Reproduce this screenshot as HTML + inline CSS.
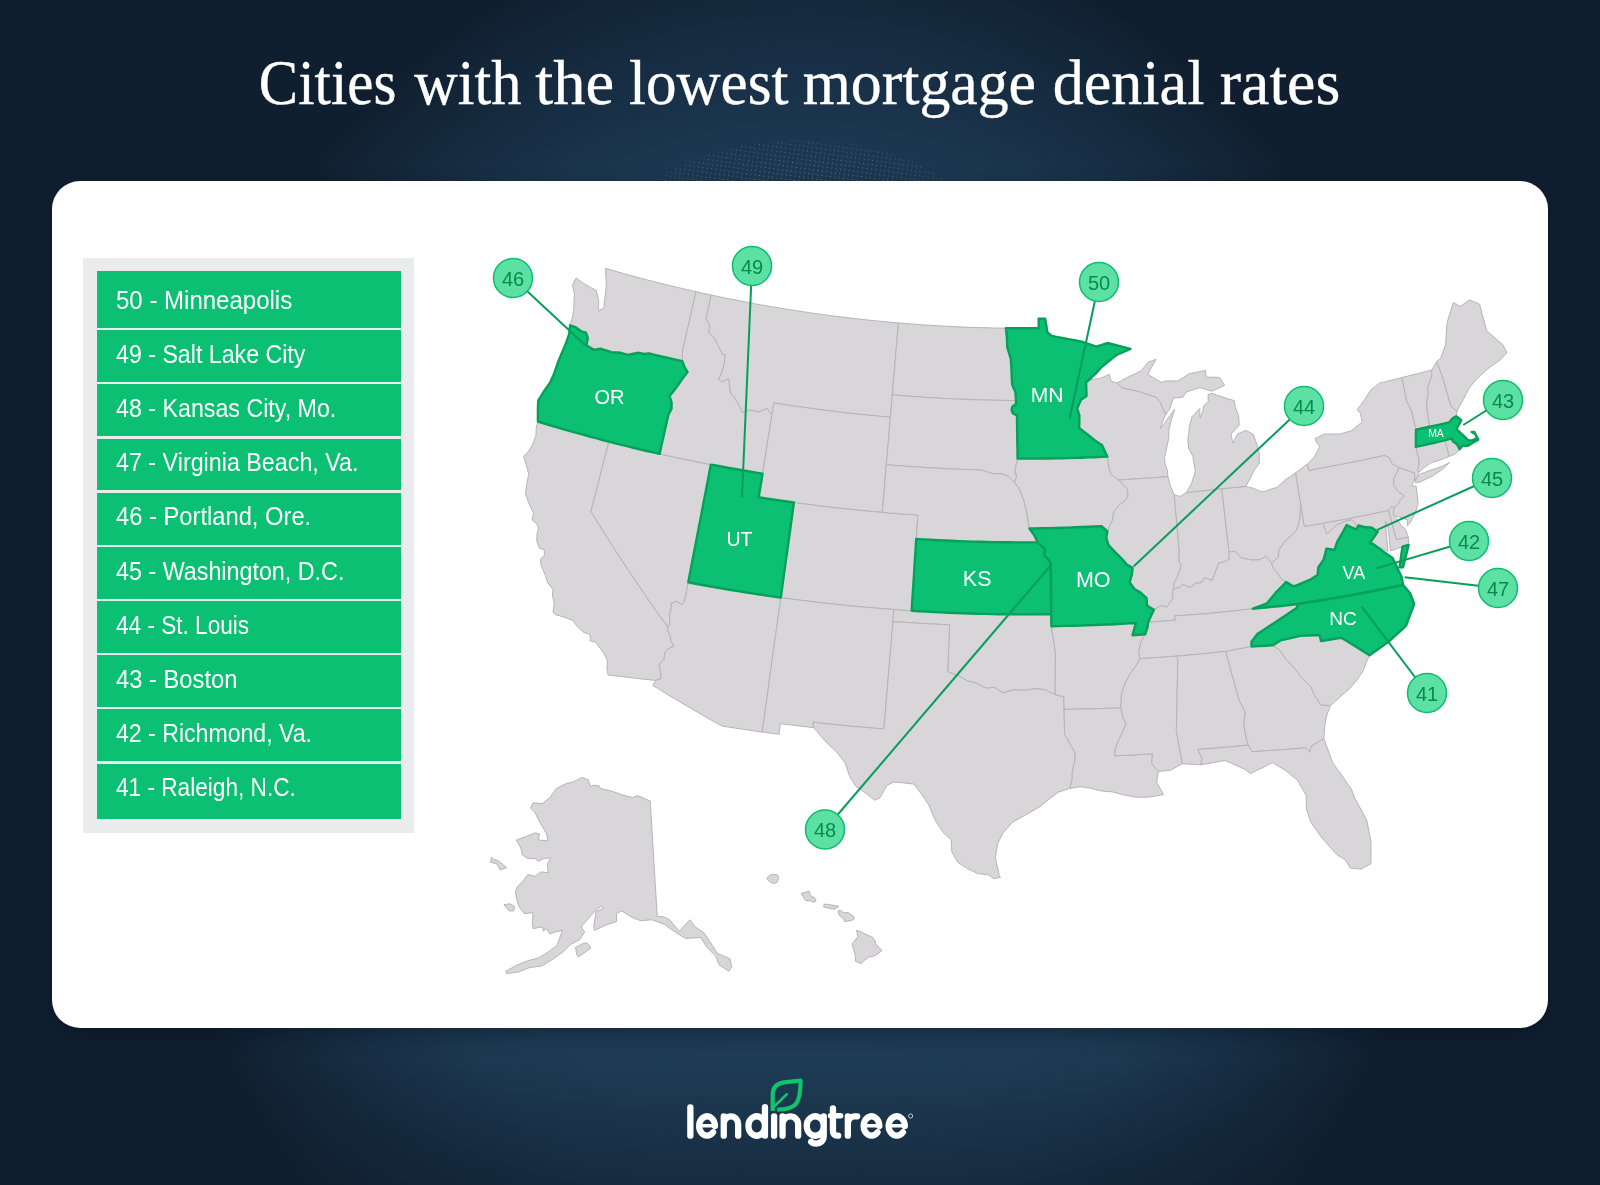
<!DOCTYPE html>
<html><head><meta charset="utf-8"><title>Cities with the lowest mortgage denial rates</title>
<style>
*{margin:0;padding:0;box-sizing:border-box}
html,body{width:1600px;height:1185px;overflow:hidden}
body{position:relative;background:#101f30;font-family:"Liberation Sans",sans-serif}
.bg{position:absolute;left:0;top:0;width:1600px;height:1185px;
background:linear-gradient(180deg,rgba(16,31,48,0) 1060px,rgba(16,31,48,0.5) 1185px),radial-gradient(ellipse 660px 760px at 800px 680px,#1f3e58 0%,#1e3b54 60%,#1c3850 70%,#183047 80%,#14283b 90%,#101f30 100%)}
h1{position:absolute;left:0;top:48px;width:1600px;text-align:center;color:#fff;font-family:"Liberation Serif",serif;
font-weight:normal;font-size:62px;line-height:70px;white-space:nowrap;letter-spacing:0px}
.card{position:absolute;left:52px;top:180.5px;width:1495.5px;height:847.5px;background:#fff;border-radius:28px;box-shadow:0 6px 18px rgba(5,12,22,0.35)}
.panel{position:absolute;left:83px;top:258px;width:331px;height:575px;background:#ebeced}
.row{position:absolute;left:96.5px;width:304px;background:#0bbf73;color:#fff}
.row span{position:absolute;left:19.5px;top:50%;transform:translateY(-50%);font-size:23px;line-height:28px;white-space:nowrap}
.map{position:absolute;left:0;top:0}
.title{position:absolute;left:0;top:0}
.logo{position:absolute;left:0;top:0}
</style></head><body>
<div class="bg"></div>
<svg class="title" width="1600" height="185" viewBox="0 0 1600 185"><title>Cities with the lowest mortgage denial rates</title><defs><pattern id="dots" width="4.4" height="4.4" patternUnits="userSpaceOnUse" patternTransform="rotate(8)"><circle cx="2.2" cy="2.2" r="0.62" fill="#7e9ab2"/></pattern><radialGradient id="dg" cx="800" cy="236" r="178" gradientUnits="userSpaceOnUse" gradientTransform="translate(800 236) scale(1 0.55) translate(-800 -236)"><stop offset="0.55" stop-color="#fff" stop-opacity="1"/><stop offset="1" stop-color="#fff" stop-opacity="0.55"/></radialGradient><mask id="dm"><ellipse cx="801" cy="238" rx="178" ry="98" fill="url(#dg)"/></mask></defs><rect x="600" y="130" width="400" height="55" fill="url(#dots)" mask="url(#dm)" opacity="0.75"/><g fill="#fff" font-family="Liberation Serif, serif" font-size="62.5" stroke="#fff" stroke-width="0.35" opacity="0.999"><text x="258.8" y="104.2" textLength="137.6" lengthAdjust="spacingAndGlyphs">Cities</text><text x="414.2" y="104.2" textLength="107.2" lengthAdjust="spacingAndGlyphs">with</text><text x="535.2" y="104.2" textLength="78.9" lengthAdjust="spacingAndGlyphs">the</text><text x="629.1" y="104.2" textLength="159.3" lengthAdjust="spacingAndGlyphs">lowest</text><text x="802.8" y="104.2" textLength="233.2" lengthAdjust="spacingAndGlyphs">mortgage</text><text x="1052.7" y="104.2" textLength="151.7" lengthAdjust="spacingAndGlyphs">denial</text><text x="1219.8" y="104.2" textLength="120.5" lengthAdjust="spacingAndGlyphs">rates</text></g></svg>
<div class="card"></div>
<div class="panel"></div>
<div class="row" style="top:271.0px;height:57.0px"></div><div class="row" style="top:330.3px;height:51.8px"></div><div class="row" style="top:384.4px;height:51.9px"></div><div class="row" style="top:438.6px;height:51.8px"></div><div class="row" style="top:492.8px;height:51.9px"></div><div class="row" style="top:546.9px;height:51.9px"></div><div class="row" style="top:601.0px;height:51.9px"></div><div class="row" style="top:655.2px;height:51.8px"></div><div class="row" style="top:709.4px;height:51.9px"></div><div class="row" style="top:763.5px;height:55.5px"></div>
<svg class="map" width="1600" height="1185" viewBox="0 0 1600 1185">
<g fill="#d8d6d8" stroke="#b5b4b6" stroke-width="1" stroke-linejoin="round"><path d="M605.6,268.4 605.9,277.1 606.3,285.7 605.5,293.2 604.6,300.8 603.7,308.3 598.6,310.8 598.6,305.7 598.7,300.7 596.2,290.4 590.6,287.4 585.1,284.4 580.6,281.2 576.2,278.0 572.4,285.2 574.4,293.5 574.0,303.2 573.7,310.1 572.1,318.7 570.1,325.3 575.6,327.2 578.4,329.3 581.2,331.3 586.0,332.7 587.8,338.2 586.5,345.2 590.2,347.6 594.0,349.9 600.3,348.7 605.9,350.5 611.4,352.2 616.1,352.5 620.7,352.8 624.3,353.8 627.9,354.9 633.3,353.8 638.7,352.8 644.4,354.0 649.1,353.4 654.6,354.8 660.2,356.1 665.7,357.4 671.2,358.7 676.7,360.0 682.3,361.2 682.4,356.1 682.5,351.1 684.5,342.6 686.4,334.1 688.3,325.6 690.3,317.1 692.2,308.6 694.1,300.2 696.0,291.7 690.0,290.3 683.9,288.9 677.8,287.5 671.8,286.1 665.7,284.6 659.7,283.1 653.6,281.5 647.6,280.0 641.6,278.4 635.6,276.8 629.5,275.2 623.5,273.5 617.5,271.8 611.6,270.1 605.6,268.4Z"/><path d="M537.9,421.6 536.3,427.4 535.9,436.0 532.4,445.0 528.5,451.3 523.7,456.4 526.5,465.7 528.7,473.9 527.6,479.9 526.5,485.8 525.5,494.2 527.6,499.9 529.8,505.5 533.4,512.8 532.2,520.0 536.9,523.9 538.6,528.1 537.0,533.9 536.8,541.3 539.7,548.4 544.2,549.6 544.4,555.9 540.7,558.6 540.9,564.9 545.1,574.8 547.8,583.0 553.0,589.3 552.4,595.4 554.3,603.3 553.0,611.7 555.3,614.7 559.5,615.8 563.7,616.9 568.3,618.7 572.8,620.5 577.3,626.6 580.6,629.6 583.9,632.6 589.6,634.0 590.5,638.4 590.0,640.8 595.7,642.1 598.7,646.5 603.4,652.5 607.5,660.8 606.9,668.0 608.0,674.9 614.8,675.8 621.6,676.6 628.4,677.4 635.2,678.2 642.0,679.0 648.8,679.7 655.7,680.4 661.1,678.6 660.8,673.9 659.2,664.5 663.9,659.4 665.0,652.7 667.7,649.1 674.2,646.2 670.8,641.2 670.1,635.0 667.4,630.3 668.0,627.2 662.1,619.1 656.3,610.9 650.5,602.7 644.8,594.4 639.2,586.2 633.6,577.9 628.0,569.7 622.6,561.4 617.1,553.0 611.8,544.7 606.5,536.4 601.3,528.0 596.1,519.7 591.0,511.3 593.2,502.6 595.5,493.8 597.7,485.1 600.0,476.4 602.2,467.7 604.5,459.0 606.7,450.3 608.9,441.6 602.5,440.0 596.0,438.2 589.5,436.5 583.0,434.7 576.5,432.9 570.1,431.1 563.6,429.3 557.2,427.4 550.8,425.5 544.3,423.6 537.9,421.6Z"/><path d="M608.9,441.6 606.7,450.3 604.5,459.0 602.2,467.7 600.0,476.4 597.7,485.1 595.5,493.8 593.2,502.6 591.0,511.3 596.1,519.7 601.3,528.0 606.5,536.4 611.8,544.7 617.1,553.0 622.6,561.4 628.0,569.7 633.6,577.9 639.2,586.2 644.8,594.4 650.5,602.7 656.3,610.9 662.1,619.1 668.0,627.2 670.1,622.7 669.4,615.3 671.6,607.2 670.7,603.3 676.6,601.5 681.8,604.8 684.6,601.2 686.5,591.7 688.3,582.3 690.0,573.2 691.7,564.2 693.5,555.1 695.2,546.1 697.0,537.0 698.7,527.9 700.5,518.9 702.2,509.8 703.9,500.8 705.7,491.7 707.4,482.7 709.1,473.6 710.9,464.6 704.5,463.3 698.0,462.0 691.6,460.7 685.2,459.4 678.8,458.1 672.4,456.7 666.0,455.3 659.6,453.9 653.2,452.4 646.9,451.0 640.5,449.5 634.2,448.0 627.9,446.4 621.6,444.8 615.3,443.3 608.9,441.6Z"/><path d="M696.0,291.7 701.1,292.9 706.1,294.0 711.1,295.0 709.5,302.9 707.8,310.7 706.1,318.5 709.9,326.1 708.9,332.4 711.7,335.1 714.4,337.8 718.5,346.4 722.7,354.5 725.2,354.5 724.6,359.8 724.0,365.1 721.5,373.1 718.6,379.5 722.4,381.7 729.0,378.4 729.7,385.7 730.4,393.0 734.0,396.8 736.9,401.8 739.9,406.8 742.3,412.1 746.8,411.0 751.3,409.8 755.0,410.9 758.7,412.0 762.8,410.2 767.0,408.3 771.9,414.7 770.6,423.1 769.2,431.5 767.9,439.9 766.6,448.3 765.2,456.8 763.9,465.2 762.5,473.6 756.0,472.6 749.6,471.5 743.1,470.4 736.7,469.3 730.2,468.2 723.8,467.0 717.3,465.8 710.9,464.6 704.5,463.3 698.0,462.0 691.6,460.7 685.2,459.4 678.8,458.1 672.4,456.7 666.0,455.3 659.6,453.9 661.3,446.0 663.1,438.2 664.9,430.3 666.6,422.5 668.4,414.7 671.5,408.8 671.6,402.7 669.6,396.1 673.6,390.9 677.5,385.7 682.0,379.4 687.5,372.1 684.1,366.0 682.3,361.2 682.4,356.1 682.5,351.1 684.5,342.6 686.4,334.1 688.3,325.6 690.3,317.1 692.2,308.6 694.1,300.2 696.0,291.7Z"/><path d="M711.1,295.0 717.3,296.4 723.5,297.6 729.7,298.9 735.9,300.1 742.1,301.3 748.3,302.5 754.5,303.7 760.7,304.8 766.9,305.9 773.2,307.0 779.4,308.0 785.6,309.0 791.8,310.0 798.1,311.0 804.3,311.9 810.6,312.9 816.8,313.7 823.1,314.6 829.3,315.5 835.6,316.3 841.9,317.0 848.1,317.8 854.4,318.5 860.7,319.2 867.0,319.9 873.2,320.6 879.5,321.2 885.8,321.8 892.1,322.4 898.4,322.9 897.6,331.9 896.9,340.8 896.1,349.8 895.3,358.8 894.6,367.8 893.8,376.8 893.0,385.9 892.3,394.9 891.6,402.3 891.0,409.7 890.4,417.2 883.9,416.6 877.4,416.0 870.9,415.4 864.4,414.7 857.9,414.1 851.4,413.4 844.9,412.7 838.4,411.9 832.0,411.1 825.5,410.3 819.0,409.5 812.5,408.6 806.1,407.7 799.6,406.8 793.2,405.9 786.7,404.9 780.3,403.9 773.8,402.9 772.9,408.8 771.9,414.7 767.0,408.3 762.8,410.2 758.7,412.0 755.0,410.9 751.3,409.8 746.8,411.0 742.3,412.1 739.9,406.8 736.9,401.8 734.0,396.8 730.4,393.0 729.7,385.7 729.0,378.4 722.4,381.7 718.6,379.5 721.5,373.1 724.0,365.1 724.6,359.8 725.2,354.5 722.7,354.5 718.5,346.4 714.4,337.8 711.7,335.1 708.9,332.4 709.9,326.1 706.1,318.5 707.8,310.7 709.5,302.9 711.1,295.0Z"/><path d="M771.9,414.7 772.9,408.8 773.8,402.9 780.3,403.9 786.7,404.9 793.2,405.9 799.6,406.8 806.1,407.7 812.5,408.6 819.0,409.5 825.5,410.3 832.0,411.1 838.4,411.9 844.9,412.7 851.4,413.4 857.9,414.1 864.4,414.7 870.9,415.4 877.4,416.0 883.9,416.6 890.4,417.2 889.6,426.7 888.8,436.2 888.0,445.7 887.2,455.2 886.3,464.7 885.5,474.2 884.7,483.8 883.9,493.3 883.1,502.8 882.3,512.4 875.5,511.8 868.7,511.2 861.9,510.5 855.1,509.8 848.2,509.1 841.4,508.4 834.6,507.7 827.9,506.9 821.1,506.1 814.3,505.2 807.5,504.3 800.7,503.5 793.9,502.5 786.9,501.5 779.8,500.5 772.8,499.5 765.8,498.4 758.7,497.3 760.0,489.4 761.3,481.5 762.5,473.6 763.9,465.2 765.2,456.8 766.6,448.3 767.9,439.9 769.2,431.5 770.6,423.1 771.9,414.7Z"/><path d="M793.9,502.5 800.7,503.5 807.5,504.3 814.3,505.2 821.1,506.1 827.9,506.9 834.6,507.7 841.4,508.4 848.2,509.1 855.1,509.8 861.9,510.5 868.7,511.2 875.5,511.8 882.3,512.4 889.4,513.0 896.5,513.5 903.6,514.1 910.7,514.5 917.8,515.0 917.3,523.0 916.8,531.0 916.2,538.9 915.7,547.9 915.1,556.9 914.5,565.9 914.0,574.8 913.4,583.8 912.8,592.8 912.2,601.8 911.7,610.8 905.7,610.4 899.8,610.0 893.9,609.5 886.8,609.0 879.7,608.4 872.6,607.8 865.5,607.2 858.4,606.6 851.4,605.9 844.3,605.2 837.2,604.5 830.2,603.7 823.1,602.9 816.0,602.1 809.0,601.2 801.9,600.4 794.9,599.5 787.8,598.5 780.8,597.6 782.1,588.1 783.4,578.6 784.7,569.1 786.0,559.5 787.4,550.0 788.7,540.5 790.0,531.0 791.3,521.5 792.6,512.0 793.9,502.5Z"/><path d="M688.3,582.3 695.4,583.7 702.4,585.0 709.5,586.3 716.6,587.5 723.8,588.8 730.9,590.0 738.0,591.1 745.1,592.3 752.2,593.4 759.4,594.5 766.5,595.5 773.6,596.6 780.8,597.6 779.6,606.6 778.3,615.5 777.1,624.5 775.8,633.5 774.6,642.5 773.3,651.4 772.1,660.4 770.9,669.4 769.6,678.3 768.4,687.3 767.2,696.3 765.9,705.2 764.7,714.2 763.4,723.1 762.2,732.0 755.5,731.1 748.7,730.1 742.0,729.1 735.3,728.1 728.5,727.1 721.8,726.0 714.8,722.1 707.8,718.1 700.8,714.1 693.9,710.1 687.0,706.0 680.1,702.0 673.2,697.9 666.4,693.8 659.6,689.6 652.8,685.4 655.7,680.4 661.1,678.6 660.8,673.9 659.2,664.5 663.9,659.4 665.0,652.7 667.7,649.1 674.2,646.2 670.8,641.2 670.1,635.0 667.4,630.3 668.0,627.2 670.1,622.7 669.4,615.3 671.6,607.2 670.7,603.3 676.6,601.5 681.8,604.8 684.6,601.2 686.5,591.7 688.3,582.3Z"/><path d="M780.8,597.6 787.8,598.5 794.9,599.5 801.9,600.4 809.0,601.2 816.0,602.1 823.1,602.9 830.2,603.7 837.2,604.5 844.3,605.2 851.4,605.9 858.4,606.6 865.5,607.2 872.6,607.8 879.7,608.4 886.8,609.0 893.9,609.5 893.4,615.5 893.0,621.5 892.2,630.5 891.5,639.4 890.7,648.4 889.9,657.3 889.2,666.3 888.4,675.3 887.7,684.2 886.9,693.1 886.1,702.1 885.4,711.0 884.6,719.9 883.8,728.9 875.9,728.3 868.0,727.6 860.1,727.0 852.2,726.3 844.3,725.5 836.4,724.7 828.5,723.9 820.6,723.1 812.8,722.2 814.0,727.7 807.3,726.9 800.5,726.1 793.8,725.3 787.1,724.5 780.4,723.6 779.7,729.0 779.1,734.3 773.4,733.5 767.8,732.8 762.2,732.0 763.4,723.1 764.7,714.2 765.9,705.2 767.2,696.3 768.4,687.3 769.6,678.3 770.9,669.4 772.1,660.4 773.3,651.4 774.6,642.5 775.8,633.5 777.1,624.5 778.3,615.5 779.6,606.6 780.8,597.6Z"/><path d="M898.4,322.9 904.3,323.4 910.3,323.9 916.3,324.3 922.2,324.8 928.2,325.2 934.2,325.5 940.1,325.9 946.1,326.2 952.1,326.5 958.1,326.8 964.0,327.1 970.0,327.3 976.0,327.5 982.0,327.7 987.9,327.8 993.9,328.0 999.9,328.1 1005.9,328.2 1007.0,337.6 1007.2,347.0 1009.0,352.9 1010.8,358.8 1011.2,364.7 1011.5,370.6 1011.8,377.7 1012.2,384.8 1015.4,392.0 1016.0,400.5 1009.5,400.5 1003.0,400.4 996.5,400.3 989.9,400.1 983.4,400.0 976.9,399.8 970.4,399.6 963.9,399.3 957.4,399.1 950.8,398.8 944.3,398.5 937.8,398.1 931.3,397.7 924.8,397.3 918.3,396.9 911.8,396.4 905.3,396.0 898.8,395.4 892.3,394.9 893.0,385.9 893.8,376.8 894.6,367.8 895.3,358.8 896.1,349.8 896.9,340.8 897.6,331.9 898.4,322.9Z"/><path d="M892.3,394.9 898.8,395.4 905.3,396.0 911.8,396.4 918.3,396.9 924.8,397.3 931.3,397.7 937.8,398.1 944.3,398.5 950.8,398.8 957.4,399.1 963.9,399.3 970.4,399.6 976.9,399.8 983.4,400.0 989.9,400.1 996.5,400.3 1003.0,400.4 1009.5,400.5 1016.0,400.5 1016.0,404.0 1012.5,406.5 1011.5,410.0 1013.0,413.5 1017.0,415.5 1017.1,424.1 1017.2,432.7 1017.3,441.4 1017.5,450.0 1017.6,458.6 1016.3,464.6 1014.9,470.5 1016.6,476.5 1014.5,482.5 1008.0,476.0 1004.5,474.9 1001.1,473.7 997.2,473.8 993.3,473.9 989.4,472.6 985.5,471.3 982.1,470.0 975.3,469.8 968.4,469.6 961.6,469.3 954.7,469.1 947.9,468.8 941.0,468.4 934.2,468.1 927.3,467.7 920.5,467.2 913.7,466.8 906.8,466.3 900.0,465.8 893.2,465.3 886.3,464.7 887.2,455.2 888.0,445.7 888.8,436.2 889.6,426.7 890.4,417.2 891.0,409.7 891.6,402.3 892.3,394.9Z"/><path d="M886.3,464.7 893.2,465.3 900.0,465.8 906.8,466.3 913.7,466.8 920.5,467.2 927.3,467.7 934.2,468.1 941.0,468.4 947.9,468.8 954.7,469.1 961.6,469.3 968.4,469.6 975.3,469.8 982.1,470.0 985.5,471.3 989.4,472.6 993.3,473.9 997.2,473.8 1001.1,473.7 1004.5,474.9 1008.0,476.0 1014.5,482.5 1019.2,488.5 1021.4,493.9 1023.5,499.3 1025.3,506.5 1027.1,513.6 1028.0,520.8 1029.4,528.5 1034.3,535.2 1037.7,542.4 1030.6,542.4 1023.4,542.4 1016.3,542.4 1009.1,542.3 1002.0,542.3 994.8,542.1 987.7,542.0 980.5,541.8 973.4,541.6 966.2,541.4 959.1,541.1 952.0,540.8 944.8,540.5 937.7,540.2 930.5,539.8 923.4,539.4 916.2,538.9 916.8,531.0 917.3,523.0 917.8,515.0 910.7,514.5 903.6,514.1 896.5,513.5 889.4,513.0 882.3,512.4 883.1,502.8 883.9,493.3 884.7,483.8 885.5,474.2 886.3,464.7Z"/><path d="M911.7,610.8 919.0,611.2 926.3,611.6 933.7,612.0 941.0,612.4 948.4,612.7 955.7,613.0 963.1,613.3 970.4,613.5 977.7,613.8 985.1,613.9 992.4,614.1 999.8,614.2 1007.1,614.3 1014.5,614.4 1021.8,614.4 1029.2,614.4 1036.5,614.4 1043.9,614.3 1051.2,614.2 1051.3,620.2 1051.4,626.2 1052.7,635.0 1054.1,643.9 1055.4,652.8 1055.4,661.1 1055.3,669.5 1055.3,677.9 1055.2,686.3 1055.2,694.7 1050.0,692.1 1044.9,689.6 1039.5,689.1 1034.1,688.7 1029.7,689.5 1025.3,690.4 1019.4,690.1 1013.5,689.9 1008.1,691.4 1002.7,692.9 998.4,690.1 994.0,687.2 990.1,687.8 986.1,688.3 981.3,685.8 976.5,683.3 971.6,681.9 966.8,680.6 963.0,678.3 959.2,676.0 954.8,674.4 950.5,672.8 947.7,671.3 948.1,662.0 948.5,652.7 948.9,643.4 949.2,634.1 949.6,624.8 942.5,624.5 935.5,624.1 928.4,623.8 921.3,623.4 914.2,622.9 907.1,622.5 900.0,622.0 893.0,621.5 893.4,615.5 893.9,609.5 899.8,610.0 905.7,610.4 911.7,610.8Z"/><path d="M893.0,621.5 900.0,622.0 907.1,622.5 914.2,622.9 921.3,623.4 928.4,623.8 935.5,624.1 942.5,624.5 949.6,624.8 949.2,634.1 948.9,643.4 948.5,652.7 948.1,662.0 947.7,671.3 950.5,672.8 954.8,674.4 959.2,676.0 963.0,678.3 966.8,680.6 971.6,681.9 976.5,683.3 981.3,685.8 986.1,688.3 990.1,687.8 994.0,687.2 998.4,690.1 1002.7,692.9 1008.1,691.4 1013.5,689.9 1019.4,690.1 1025.3,690.4 1029.7,689.5 1034.1,688.7 1039.5,689.1 1044.9,689.6 1050.0,692.1 1055.2,694.7 1059.5,695.7 1063.8,696.7 1064.0,703.0 1064.1,709.4 1064.3,717.6 1064.4,725.8 1064.6,734.0 1069.6,743.2 1072.3,747.9 1074.9,752.6 1075.1,759.7 1073.7,765.7 1072.3,771.7 1072.1,780.0 1069.9,788.4 1064.1,790.3 1058.4,792.2 1050.2,798.3 1045.0,802.5 1039.9,806.7 1032.6,810.9 1025.3,815.0 1019.0,818.6 1012.7,822.1 1007.9,827.4 1003.2,832.7 1000.5,838.0 997.7,843.3 996.6,850.3 995.4,857.4 996.7,863.7 998.1,870.0 999.4,876.3 1000.5,877.3 994.0,878.6 988.7,875.0 983.3,874.3 977.9,873.6 972.6,871.1 967.3,868.6 962.6,865.5 957.9,862.4 954.8,857.0 951.8,851.6 951.5,845.7 951.2,839.7 947.1,836.0 943.0,832.3 939.0,826.2 935.1,820.1 931.8,812.3 928.5,804.4 925.1,799.5 921.8,794.5 917.9,789.3 914.0,784.1 907.9,783.4 901.7,782.7 897.6,782.4 893.5,782.1 887.1,785.2 883.5,791.5 880.0,797.8 874.6,800.3 867.7,794.5 861.8,790.4 855.9,786.4 849.6,776.3 847.5,770.1 845.5,763.9 841.9,758.8 838.3,753.7 832.7,748.4 827.1,743.0 823.5,739.0 819.9,735.0 814.0,727.7 812.8,722.2 820.6,723.1 828.5,723.9 836.4,724.7 844.3,725.5 852.2,726.3 860.1,727.0 868.0,727.6 875.9,728.3 883.8,728.9 884.6,719.9 885.4,711.0 886.1,702.1 886.9,693.1 887.7,684.2 888.4,675.3 889.2,666.3 889.9,657.3 890.7,648.4 891.5,639.4 892.2,630.5 893.0,621.5Z"/><path d="M1017.6,458.6 1024.0,458.6 1030.4,458.6 1036.8,458.6 1043.2,458.5 1049.6,458.5 1056.0,458.3 1062.4,458.2 1068.8,458.1 1075.3,457.9 1081.7,457.7 1088.1,457.4 1094.5,457.2 1100.9,456.9 1107.3,456.6 1108.2,462.5 1109.1,468.4 1111.1,474.3 1114.8,477.1 1118.6,479.9 1122.1,483.3 1127.3,489.0 1128.1,496.1 1124.9,501.1 1120.6,503.8 1117.3,507.5 1113.9,511.3 1112.6,519.8 1110.0,525.6 1107.4,531.3 1101.6,526.1 1095.1,526.4 1088.5,526.7 1082.0,527.0 1075.4,527.3 1068.8,527.6 1062.3,527.8 1055.7,528.0 1049.1,528.1 1042.6,528.3 1036.0,528.4 1029.4,528.5 1028.0,520.8 1027.1,513.6 1025.3,506.5 1023.5,499.3 1021.4,493.9 1019.2,488.5 1014.5,482.5 1016.6,476.5 1014.9,470.5 1016.3,464.6 1017.6,458.6Z"/><path d="M1051.4,626.2 1058.5,626.1 1065.5,625.9 1072.6,625.8 1079.6,625.6 1086.6,625.3 1093.7,625.1 1100.7,624.8 1107.8,624.5 1114.8,624.2 1121.8,623.8 1128.9,623.4 1135.9,623.0 1134.2,629.1 1132.5,635.2 1138.8,634.8 1145.2,634.4 1140.9,641.9 1139.8,646.8 1138.6,651.6 1140.1,658.8 1135.7,666.2 1130.3,673.7 1125.0,683.6 1121.6,693.4 1121.2,700.6 1120.9,707.8 1113.8,708.1 1106.7,708.4 1099.6,708.6 1092.5,708.8 1085.4,709.0 1078.3,709.1 1071.2,709.3 1064.1,709.4 1064.0,703.0 1063.8,696.7 1059.5,695.7 1055.2,694.7 1055.2,686.3 1055.3,677.9 1055.3,669.5 1055.4,661.1 1055.4,652.8 1054.1,643.9 1052.7,635.0 1051.4,626.2Z"/><path d="M1064.1,709.4 1071.2,709.3 1078.3,709.1 1085.4,709.0 1092.5,708.8 1099.6,708.6 1106.7,708.4 1113.8,708.1 1120.9,707.8 1122.8,717.3 1126.1,724.3 1121.6,734.1 1118.0,741.4 1115.3,748.7 1114.6,755.9 1122.2,755.5 1129.8,755.2 1137.4,754.7 1144.9,754.3 1152.5,753.8 1151.7,763.4 1158.2,771.4 1157.4,776.9 1156.6,782.4 1160.1,788.5 1163.6,794.5 1156.8,795.8 1150.0,797.0 1143.1,797.2 1136.2,797.3 1129.0,795.9 1121.9,794.5 1117.0,793.1 1112.1,791.8 1106.9,791.4 1101.8,791.0 1095.5,789.5 1089.2,787.9 1084.6,787.3 1079.9,786.7 1074.9,787.6 1069.9,788.4 1072.1,780.0 1072.3,771.7 1073.7,765.7 1075.1,759.7 1074.9,752.6 1072.3,747.9 1069.6,743.2 1064.6,734.0 1064.4,725.8 1064.3,717.6 1064.1,709.4Z"/><path d="M1089.0,380.0 1094.7,379.2 1100.4,378.3 1104.8,376.4 1109.2,374.3 1111.2,381.3 1117.0,382.9 1122.3,387.8 1127.8,389.0 1133.4,390.2 1139.0,391.4 1143.2,392.9 1147.5,394.4 1151.8,395.8 1156.0,397.2 1160.7,402.8 1162.8,408.6 1165.9,414.3 1163.0,420.5 1160.3,428.6 1164.9,422.7 1169.4,416.4 1174.6,409.2 1173.0,414.5 1171.4,419.8 1168.9,429.6 1168.8,437.9 1167.0,446.5 1165.8,452.0 1164.5,457.5 1165.0,463.7 1167.4,470.4 1167.9,476.6 1161.7,477.1 1155.6,477.6 1149.4,478.0 1143.2,478.4 1137.1,478.8 1130.9,479.2 1124.7,479.6 1118.6,479.9 1114.8,477.1 1111.1,474.3 1109.1,468.4 1108.2,462.5 1107.3,456.6 1104.6,450.7 1101.9,444.9 1098.4,442.7 1094.9,440.4 1087.9,434.8 1083.5,431.4 1079.2,427.9 1079.3,421.7 1079.4,415.5 1077.2,408.5 1080.9,399.8 1086.5,396.0 1086.3,389.2 1086.0,382.3 1089.0,380.0Z"/><path d="M1118.6,479.9 1124.7,479.6 1130.9,479.2 1137.1,478.8 1143.2,478.4 1149.4,478.0 1155.6,477.6 1161.7,477.1 1167.9,476.6 1170.4,485.8 1172.7,491.6 1174.3,495.0 1175.1,504.4 1175.9,513.7 1176.8,523.1 1177.6,532.4 1178.4,541.8 1179.3,551.1 1178.8,560.8 1181.1,565.4 1179.7,570.4 1177.5,576.6 1174.6,581.7 1173.3,589.0 1172.6,596.3 1172.8,598.7 1166.9,607.1 1161.2,605.6 1157.6,607.7 1153.9,609.7 1147.0,605.4 1146.6,598.2 1140.6,592.6 1134.8,589.4 1129.7,582.5 1132.0,573.9 1132.5,567.9 1126.8,564.6 1121.9,558.9 1116.1,553.2 1112.3,549.2 1108.5,545.2 1106.3,538.1 1107.4,531.3 1110.0,525.6 1112.6,519.8 1113.9,511.3 1117.3,507.5 1120.6,503.8 1124.9,501.1 1128.1,496.1 1127.3,489.0 1122.1,483.3 1118.6,479.9Z"/><path d="M1174.3,495.0 1180.2,496.4 1186.6,492.4 1192.4,491.9 1198.3,491.3 1204.2,490.6 1210.0,490.0 1215.9,489.3 1221.7,488.7 1222.8,497.7 1223.8,506.7 1224.9,515.8 1225.9,524.8 1226.9,533.9 1228.0,542.9 1229.0,552.0 1229.3,559.2 1223.2,562.3 1218.7,562.9 1216.9,567.9 1215.1,572.9 1212.2,580.5 1204.5,577.6 1201.3,582.8 1195.7,583.3 1190.5,587.4 1186.7,586.0 1182.8,584.5 1180.2,587.2 1173.3,589.0 1174.6,581.7 1177.5,576.6 1179.7,570.4 1181.1,565.4 1178.8,560.8 1179.3,551.1 1178.4,541.8 1177.6,532.4 1176.8,523.1 1175.9,513.7 1175.1,504.4 1174.3,495.0Z"/><path d="M1221.7,488.7 1222.8,497.7 1223.8,506.7 1224.9,515.8 1225.9,524.8 1226.9,533.9 1228.0,542.9 1229.0,552.0 1234.8,551.3 1241.2,557.8 1246.4,558.9 1251.6,560.1 1255.8,559.9 1259.9,559.7 1265.9,556.2 1271.5,562.9 1278.2,557.6 1279.0,550.2 1284.2,542.2 1289.9,536.9 1293.1,533.8 1296.3,530.6 1298.2,525.4 1299.2,520.4 1300.2,515.4 1300.3,510.5 1300.8,504.6 1299.5,496.7 1298.2,488.7 1296.9,480.8 1295.6,472.9 1290.2,476.6 1284.7,480.2 1280.8,483.9 1276.9,487.5 1271.7,488.8 1267.9,490.3 1264.1,491.8 1259.6,491.2 1253.8,488.4 1249.7,487.4 1245.6,486.4 1239.6,487.0 1233.6,487.6 1227.7,488.1 1221.7,488.7Z"/><path d="M1117.0,382.9 1121.3,380.7 1125.5,378.4 1129.7,376.2 1135.3,373.7 1140.8,371.1 1144.5,366.7 1148.2,362.2 1152.2,360.7 1156.1,359.2 1151.9,366.7 1147.6,374.2 1154.5,378.3 1161.4,382.5 1166.2,380.9 1172.0,380.9 1177.7,381.0 1183.2,377.5 1188.6,373.9 1194.1,372.8 1199.7,371.6 1205.3,370.4 1206.3,377.4 1212.0,377.2 1215.8,377.4 1219.5,377.5 1224.6,385.2 1218.4,388.4 1214.9,389.8 1211.5,391.2 1205.7,389.3 1199.9,387.5 1195.4,389.0 1190.9,390.5 1186.3,392.0 1182.7,397.2 1178.0,397.7 1173.3,398.1 1171.4,403.6 1169.6,409.2 1165.9,414.3 1162.8,408.6 1160.7,402.8 1156.0,397.2 1151.8,395.8 1147.5,394.4 1143.2,392.9 1139.0,391.4 1133.4,390.2 1127.8,389.0 1122.3,387.8 1117.0,382.9ZM1186.6,492.4 1191.4,483.8 1193.4,477.6 1195.3,471.4 1194.1,463.9 1192.9,456.5 1188.6,448.0 1187.8,439.7 1188.8,432.4 1189.7,425.2 1192.2,416.5 1196.0,412.5 1199.8,408.5 1199.9,413.3 1200.0,418.1 1202.7,411.8 1203.7,405.7 1208.2,401.6 1208.2,394.4 1211.8,393.3 1216.4,394.9 1221.0,396.5 1227.6,398.6 1234.2,400.7 1235.4,407.5 1238.7,415.7 1238.9,420.5 1239.2,425.3 1235.0,429.7 1230.9,434.1 1232.9,443.0 1237.7,433.9 1241.8,432.2 1245.9,430.4 1249.6,432.3 1253.3,434.2 1255.5,440.5 1257.7,446.8 1259.3,454.3 1259.2,463.5 1254.0,470.3 1250.6,478.0 1245.6,486.4 1239.6,487.0 1233.6,487.6 1227.7,488.1 1221.7,488.7 1215.9,489.3 1210.0,490.0 1204.2,490.6 1198.3,491.3 1192.4,491.9 1186.6,492.4Z"/><path d="M1271.5,562.9 1265.9,556.2 1259.9,559.7 1255.8,559.9 1251.6,560.1 1246.4,558.9 1241.2,557.8 1234.8,551.3 1229.0,552.0 1229.3,559.2 1223.2,562.3 1218.7,562.9 1216.9,567.9 1215.1,572.9 1212.2,580.5 1204.5,577.6 1201.3,582.8 1195.7,583.3 1190.5,587.4 1186.7,586.0 1182.8,584.5 1180.2,587.2 1173.3,589.0 1172.6,596.3 1172.8,598.7 1166.9,607.1 1161.2,605.6 1157.6,607.7 1153.9,609.7 1151.5,614.7 1148.2,622.2 1154.9,621.7 1161.7,621.2 1168.4,620.7 1175.2,620.1 1174.8,615.8 1182.2,615.4 1189.6,614.9 1197.0,614.4 1204.4,613.8 1211.3,613.2 1218.2,612.5 1225.2,611.8 1232.1,611.1 1239.0,610.3 1245.9,609.5 1252.8,608.7 1259.9,606.0 1267.0,603.3 1271.8,597.6 1276.5,591.8 1281.3,587.0 1286.1,582.1 1282.4,580.0 1277.7,573.4 1273.2,568.0 1271.5,562.9Z"/><path d="M1252.8,608.7 1245.9,609.5 1239.0,610.3 1232.1,611.1 1225.2,611.8 1218.2,612.5 1211.3,613.2 1204.4,613.8 1197.0,614.4 1189.6,614.9 1182.2,615.4 1174.8,615.8 1175.2,620.1 1168.4,620.7 1161.7,621.2 1154.9,621.7 1148.2,622.2 1147.6,627.0 1145.2,634.4 1140.9,641.9 1139.8,646.8 1138.6,651.6 1140.1,658.8 1147.2,658.3 1154.3,657.8 1161.4,657.3 1168.6,656.7 1175.7,656.2 1182.8,655.6 1190.0,654.9 1197.1,654.3 1204.2,653.6 1211.4,652.9 1218.5,652.1 1225.6,651.4 1232.1,650.2 1238.6,649.0 1245.0,647.8 1251.5,646.5 1251.5,641.8 1257.6,633.7 1263.9,629.7 1270.2,625.6 1276.5,621.5 1280.5,618.8 1285.9,615.2 1291.3,611.6 1296.7,608.0 1298.1,604.0 1291.6,604.7 1285.2,605.5 1278.7,606.2 1272.2,606.8 1265.8,607.5 1259.3,608.1 1252.8,608.7Z"/><path d="M1120.9,707.8 1121.2,700.6 1121.6,693.4 1125.0,683.6 1130.3,673.7 1135.7,666.2 1140.1,658.8 1147.2,658.3 1154.3,657.8 1161.4,657.3 1168.6,656.7 1175.7,656.2 1177.8,658.4 1177.6,667.4 1177.5,676.5 1177.3,685.5 1177.1,694.5 1177.0,703.5 1176.8,712.5 1176.6,721.5 1176.3,730.5 1177.8,738.8 1179.3,747.1 1180.8,755.4 1182.3,763.7 1176.3,767.0 1170.2,770.3 1164.2,770.9 1158.2,771.4 1151.7,763.4 1152.5,753.8 1144.9,754.3 1137.4,754.7 1129.8,755.2 1122.2,755.5 1114.6,755.9 1115.3,748.7 1118.0,741.4 1121.6,734.1 1126.1,724.3 1122.8,717.3 1120.9,707.8Z"/><path d="M1175.7,656.2 1182.8,655.6 1190.0,654.9 1197.1,654.3 1204.2,653.6 1211.4,652.9 1218.5,652.1 1225.6,651.4 1227.9,659.7 1230.2,668.0 1232.5,676.3 1234.8,684.6 1237.1,692.9 1239.5,701.1 1242.4,706.5 1245.3,711.8 1244.5,717.9 1243.7,724.0 1245.0,731.0 1246.3,738.1 1248.2,745.1 1241.0,745.8 1233.8,746.5 1226.6,747.1 1219.3,747.8 1212.1,748.4 1204.9,748.9 1197.7,749.5 1202.0,758.2 1200.9,764.8 1194.7,764.5 1188.5,764.1 1182.3,763.7 1180.8,755.4 1179.3,747.1 1177.8,738.8 1176.3,730.5 1176.6,721.5 1176.8,712.5 1177.0,703.5 1177.1,694.5 1177.3,685.5 1177.5,676.5 1177.6,667.4 1177.8,658.4 1175.7,656.2Z"/><path d="M1225.6,651.4 1232.1,650.2 1238.6,649.0 1245.0,647.8 1251.5,646.5 1258.7,646.1 1265.9,645.7 1273.1,645.2 1280.1,650.6 1286.2,659.4 1294.3,667.9 1298.0,672.8 1301.7,677.7 1306.4,682.5 1311.2,687.2 1314.4,695.2 1317.7,700.1 1321.0,705.0 1325.7,705.3 1330.4,705.6 1328.5,710.8 1326.5,716.0 1325.5,722.0 1324.5,728.0 1324.2,733.3 1323.8,738.5 1317.4,742.4 1311.0,746.4 1309.8,752.3 1306.0,747.8 1298.3,748.4 1290.5,749.1 1282.8,749.6 1275.0,750.2 1267.3,750.7 1259.5,751.2 1251.8,751.6 1248.2,745.1 1246.3,738.1 1245.0,731.0 1243.7,724.0 1244.5,717.9 1245.3,711.8 1242.4,706.5 1239.5,701.1 1237.1,692.9 1234.8,684.6 1232.5,676.3 1230.2,668.0 1227.9,659.7 1225.6,651.4Z"/><path d="M1248.2,745.1 1251.8,751.6 1259.5,751.2 1267.3,750.7 1275.0,750.2 1282.8,749.6 1290.5,749.1 1298.3,748.4 1306.0,747.8 1309.8,752.3 1311.0,746.4 1317.4,742.4 1323.8,738.5 1326.7,746.5 1329.7,754.6 1332.6,762.6 1337.8,769.8 1343.0,777.0 1347.1,783.0 1351.3,789.0 1354.6,797.7 1358.6,805.0 1362.6,812.4 1366.6,819.7 1368.1,827.0 1369.5,834.3 1371.0,841.6 1371.0,848.9 1371.0,856.3 1371.0,863.6 1366.1,866.4 1361.1,869.1 1355.6,868.6 1350.2,868.0 1345.8,860.3 1337.0,854.8 1329.5,846.4 1322.0,838.0 1316.3,830.0 1310.7,821.9 1308.5,815.3 1306.3,808.7 1306.3,802.2 1306.3,795.6 1301.9,787.9 1297.5,780.2 1291.2,775.1 1285.0,770.0 1278.6,766.3 1272.3,762.6 1267.2,765.3 1262.0,768.0 1256.2,770.8 1250.3,773.6 1244.8,769.2 1238.2,766.3 1231.6,763.4 1225.1,760.4 1217.0,761.9 1209.0,763.4 1200.9,764.8 1202.0,758.2 1197.7,749.5 1204.9,748.9 1212.1,748.4 1219.3,747.8 1226.6,747.1 1233.8,746.5 1241.0,745.8 1248.2,745.1Z"/><path d="M1273.1,645.2 1276.8,642.8 1280.5,640.4 1287.3,638.9 1294.0,637.3 1300.8,635.7 1307.1,635.5 1313.4,635.3 1319.7,635.0 1321.0,641.1 1327.8,640.0 1334.5,638.9 1341.3,637.7 1350.0,643.1 1358.8,648.5 1364.2,651.9 1369.6,655.3 1366.5,662.0 1363.3,670.5 1357.0,680.0 1353.6,684.0 1350.2,688.0 1345.1,692.5 1340.0,697.0 1335.2,701.3 1330.4,705.6 1325.7,705.3 1321.0,705.0 1317.7,700.1 1314.4,695.2 1311.2,687.2 1306.4,682.5 1301.7,677.7 1298.0,672.8 1294.3,667.9 1286.2,659.4 1280.1,650.6 1273.1,645.2Z"/><path d="M1356.5,529.5 1355.9,523.8 1351.9,519.7 1346.8,520.3 1340.8,523.3 1336.7,524.8 1331.9,529.4 1327.1,533.9 1325.0,528.5 1323.0,523.2 1322.9,523.2 1316.8,524.3 1310.6,525.3 1304.4,526.3 1303.2,519.1 1302.0,511.8 1300.8,504.6 1300.3,510.5 1300.2,515.4 1299.2,520.4 1298.2,525.4 1296.3,530.6 1293.1,533.8 1289.9,536.9 1284.2,542.2 1279.0,550.2 1278.2,557.6 1271.5,562.9 1273.2,568.0 1277.7,573.4 1282.4,580.0 1286.1,582.1 1293.3,586.4 1297.1,585.1 1300.8,583.7 1305.5,581.7 1310.2,579.7 1313.9,577.3 1317.6,574.9 1318.3,567.5 1323.7,559.4 1325.1,554.0 1326.4,548.6 1330.4,549.3 1334.5,550.0 1337.2,541.9 1342.0,533.5 1346.7,525.0 1352.0,527.5 1356.5,529.5Z"/><path d="M1373.0,543.9 1380.5,547.7 1388.0,551.5 1387.5,545.7 1387.0,540.0 1386.5,535.0 1386.0,530.0 1385.3,520.8 1388.0,528.0 1388.8,534.0 1389.5,540.0 1390.0,545.5 1390.5,551.0 1396.5,548.8 1402.5,546.6 1408.6,545.0 1408.3,537.2 1408.3,537.2 1402.4,538.4 1396.5,539.6 1394.5,532.3 1392.5,525.0 1390.5,517.7 1388.5,510.4 1382.0,511.8 1375.4,513.1 1368.9,514.5 1362.4,515.8 1355.8,517.1 1349.2,518.4 1342.7,519.6 1336.1,520.8 1329.5,522.0 1322.9,523.2 1323.0,523.2 1325.0,528.5 1327.1,533.9 1331.9,529.4 1336.7,524.8 1340.8,523.3 1346.8,520.3 1351.9,519.7 1355.9,523.8 1356.5,529.5 1358.5,525.5 1364.2,527.0 1371.6,527.6 1377.7,531.7 1373.7,537.5 1369.6,543.2 1373.0,543.9Z"/><path d="M1388.5,510.4 1391.3,506.8 1394.7,507.1 1393.3,511.8 1394.2,515.8 1397.8,519.9 1400.9,525.3 1405.5,529.2 1408.3,537.2 1402.4,538.4 1396.5,539.6 1394.5,532.3 1392.5,525.0 1390.5,517.7 1388.5,510.4Z"/><path d="M1388.5,510.4 1391.3,506.8 1394.7,507.1 1398.8,503.2 1400.8,499.6 1404.6,496.2 1402.3,494.3 1397.9,491.1 1393.9,485.4 1393.7,478.6 1395.7,475.4 1399.2,467.7 1391.8,463.5 1389.6,457.9 1384.5,455.3 1378.2,456.7 1371.9,458.0 1365.6,459.4 1359.3,460.7 1353.0,462.0 1346.7,463.2 1340.4,464.4 1334.0,465.6 1327.7,466.8 1321.4,468.0 1315.0,469.1 1308.7,470.2 1307.6,463.9 1302.5,467.6 1299.1,470.3 1295.6,472.9 1296.9,480.8 1298.2,488.7 1299.5,496.7 1300.8,504.6 1302.0,511.8 1303.2,519.1 1304.4,526.3 1310.6,525.3 1316.8,524.3 1322.9,523.2 1329.5,522.0 1336.1,520.8 1342.7,519.6 1349.2,518.4 1355.8,517.1 1362.4,515.8 1368.9,514.5 1375.4,513.1 1382.0,511.8 1388.5,510.4Z"/><path d="M1394.7,507.1 1398.8,503.2 1400.8,499.6 1404.6,496.2 1402.3,494.3 1397.9,491.1 1393.9,485.4 1393.7,478.6 1395.7,475.4 1399.2,467.7 1406.9,470.4 1414.7,473.0 1414.4,480.4 1411.5,486.0 1416.1,486.2 1417.2,494.6 1418.2,502.9 1415.1,513.5 1409.8,523.3 1407.5,525.6 1407.2,519.8 1402.0,517.7 1394.2,515.8 1393.3,511.8 1394.7,507.1Z"/><path d="M1399.2,467.7 1391.8,463.5 1389.6,457.9 1384.5,455.3 1378.2,456.7 1371.9,458.0 1365.6,459.4 1359.3,460.7 1353.0,462.0 1346.7,463.2 1340.4,464.4 1334.0,465.6 1327.7,466.8 1321.4,468.0 1315.0,469.1 1308.7,470.2 1307.6,463.9 1310.8,460.6 1314.0,457.4 1316.9,451.9 1319.7,446.4 1316.3,442.2 1315.4,438.4 1319.9,436.3 1324.4,434.1 1329.7,434.1 1334.9,434.1 1340.2,434.0 1346.0,432.3 1351.7,430.5 1354.7,427.9 1357.7,425.4 1362.3,422.2 1361.3,417.5 1360.3,412.9 1357.1,409.9 1360.8,404.9 1364.5,399.8 1367.7,394.8 1370.9,389.9 1375.3,386.4 1379.7,383.0 1385.3,381.7 1390.8,380.3 1396.4,378.9 1401.9,377.5 1403.0,382.3 1404.0,387.1 1405.3,394.1 1406.6,401.2 1409.0,405.7 1411.4,410.3 1413.0,416.7 1414.5,423.2 1416.0,429.6 1415.9,438.2 1415.9,446.9 1417.2,452.1 1418.6,457.3 1419.2,464.5 1417.4,469.9 1419.0,472.0 1417.7,476.0 1415.5,479.7 1414.4,480.4 1414.7,473.0 1406.9,470.4 1399.2,467.7ZM1415.3,482.7 1419.8,482.1 1425.9,479.2 1432.1,476.2 1436.9,473.1 1441.6,470.1 1445.6,466.3 1449.6,462.6 1446.0,464.4 1442.5,466.2 1437.4,467.9 1433.2,469.4 1428.9,470.8 1424.8,472.4 1420.6,474.0 1416.0,478.1 1415.3,482.7Z"/><path d="M1401.9,377.5 1407.9,376.1 1413.9,374.6 1419.9,373.1 1425.8,371.5 1431.8,370.0 1431.8,376.4 1429.7,381.8 1427.6,387.3 1428.3,393.3 1426.5,403.6 1427.2,409.6 1427.8,415.6 1428.7,421.1 1429.6,426.7 1425.0,427.7 1420.5,428.6 1416.0,429.6 1414.5,423.2 1413.0,416.7 1411.4,410.3 1409.0,405.7 1406.6,401.2 1405.3,394.1 1404.0,387.1 1403.0,382.3 1401.9,377.5Z"/><path d="M1431.8,370.0 1434.3,365.7 1436.8,361.5 1439.9,369.9 1442.9,378.3 1445.2,386.4 1447.5,394.4 1449.8,402.4 1451.4,406.9 1457.0,411.1 1456.2,416.3 1452.6,418.2 1449.2,422.4 1442.7,423.8 1436.1,425.3 1429.6,426.7 1428.7,421.1 1427.8,415.6 1427.2,409.6 1426.5,403.6 1428.3,393.3 1427.6,387.3 1429.7,381.8 1431.8,376.4 1431.8,370.0Z"/><path d="M1436.8,361.5 1440.7,358.0 1443.2,351.1 1445.6,344.3 1446.1,337.0 1446.6,329.8 1447.1,322.5 1450.2,312.6 1453.2,302.7 1460.3,306.3 1465.1,303.1 1469.8,299.9 1474.7,302.1 1479.6,304.3 1481.9,313.1 1484.3,321.8 1486.6,330.6 1490.8,334.3 1495.0,338.0 1502.8,344.8 1506.9,352.9 1502.9,357.0 1498.8,361.0 1494.4,364.0 1490.0,367.0 1485.3,371.1 1480.6,375.2 1477.3,378.6 1474.0,382.0 1471.2,385.7 1468.4,389.4 1465.9,394.5 1463.3,399.5 1460.1,405.3 1457.0,411.1 1451.4,406.9 1449.8,402.4 1447.5,394.4 1445.2,386.4 1442.9,378.3 1439.9,369.9 1436.8,361.5Z"/><path d="M1459.7,449.3 1455.0,454.3 1451.5,455.5 1448.1,456.8 1448.7,454.7 1446.8,447.5 1444.9,440.3 1448.5,439.4 1452.0,438.4 1452.8,441.2 1456.8,443.9 1459.7,449.3Z"/><path d="M1444.9,440.3 1439.1,441.7 1433.3,443.0 1427.5,444.3 1421.7,445.6 1415.9,446.9 1417.2,452.1 1418.6,457.3 1419.2,464.5 1417.4,469.9 1419.0,472.0 1422.9,468.5 1426.8,465.8 1430.7,462.9 1435.8,461.4 1440.9,459.9 1444.5,458.3 1448.1,456.8 1448.7,454.7 1446.8,447.5 1444.9,440.3Z"/><path d="M581.9,777.4 588.1,779.7 590.8,786.8 593.4,785.1 599.1,786.0 600.5,788.6 611.2,790.9 621.8,794.8 632.4,797.5 637.7,795.7 650.2,801.0 657.2,916.2 664.3,917.1 669.6,919.8 679.4,931.3 690.0,919.8 695.3,926.9 704.2,933.1 717.5,953.4 729.9,958.8 731.7,966.7 729.0,971.2 719.3,965.0 715.7,956.1 706.9,947.2 700.7,937.5 685.6,938.4 676.7,933.1 664.3,924.2 651.9,919.8 640.4,920.7 631.5,917.1 621.8,910.9 616.5,913.6 616.5,921.5 605.8,925.1 594.3,930.4 593.8,926.0 596.1,911.8 603.2,908.2 601.9,905.6 595.2,910.9 588.1,918.9 581.0,926.9 584.6,932.2 580.1,939.3 570.4,944.6 563.3,951.7 550.9,960.5 542.0,965.9 529.6,967.6 518.1,972.1 506.6,973.5 505.7,971.2 517.2,965.0 528.7,960.5 538.5,957.9 547.4,952.6 557.1,945.5 562.4,930.4 554.4,932.2 550.0,933.9 545.6,927.7 543.8,931.3 542.0,926.9 533.2,928.6 532.3,922.4 533.2,912.7 524.3,913.6 519.0,906.5 517.2,901.2 515.4,892.3 517.2,887.0 522.5,881.7 527.9,874.6 534.9,876.3 541.1,871.9 548.2,872.8 547.4,863.9 550.9,857.7 543.8,858.6 538.5,861.3 534.9,858.6 527.9,858.6 522.5,855.1 520.8,848.0 516.3,840.0 526.1,836.5 534.9,832.9 539.4,833.8 538.5,840.0 548.2,840.9 546.5,833.8 540.3,823.2 534.9,812.5 530.5,808.1 533.2,802.8 542.0,803.7 550.0,797.5 556.2,788.6 566.8,783.3 572.2,782.4 577.5,779.7ZM491.5,857.2 490.6,862.2 496.8,863.9 500.4,870.1 506.6,867.5 497.7,860.4 493.3,859.5ZM503.9,904.7 509.2,910.9 513.7,910.9 514.6,906.5 510.1,903.8ZM575.7,947.2 576.6,954.3 578.4,957.0 590.8,948.1 588.1,943.7 584.6,942.8ZM766.8,878.4 769.3,875.5 772.7,874.2 777.7,875.1 778.6,878.4 776.9,882.7 773.5,883.5 770.1,881.8 767.2,879.3ZM801.4,893.2 804.3,892.8 809.0,891.1 811.1,896.6 814.4,897.4 816.1,901.2 812.8,902.1 810.2,900.8 805.6,900.4 803.9,897.9ZM824.2,904.2 826.3,904.2 838.9,906.3 834.3,909.3 823.7,907.1ZM838.1,910.9 840.2,910.1 842.3,911.8 844.4,912.6 848.2,912.6 853.7,916.4 854.1,919.0 851.2,920.7 844.4,921.5 843.6,918.5 840.2,916.0 838.5,913.9ZM856.2,930.8 857.9,930.4 872.7,937.5 875.7,941.8 875.2,943.4 882.0,950.6 875.2,955.7 869.3,956.9 863.8,960.7 861.3,963.7 855.4,961.2 855.4,955.3 852.0,943.9 857.9,936.7 857.1,932.5Z"/></g>
<g fill="#0bbf73" stroke="#06a05a" stroke-width="2.4" stroke-linejoin="round"><path d="M570.1,325.3 569.2,333.9 566.1,342.9 563.8,348.4 561.4,353.9 557.8,362.8 555.9,368.4 554.0,374.1 550.0,382.8 547.1,386.9 544.2,391.0 541.2,395.9 538.2,400.7 537.9,410.4 537.9,416.0 537.9,421.6 544.3,423.6 550.8,425.5 557.2,427.4 563.6,429.3 570.1,431.1 576.5,432.9 583.0,434.7 589.5,436.5 596.0,438.2 602.5,440.0 608.9,441.6 615.3,443.3 621.6,444.8 627.9,446.4 634.2,448.0 640.5,449.5 646.9,451.0 653.2,452.4 659.6,453.9 661.3,446.0 663.1,438.2 664.9,430.3 666.6,422.5 668.4,414.7 671.5,408.8 671.6,402.7 669.6,396.1 673.6,390.9 677.5,385.7 682.0,379.4 687.5,372.1 684.1,366.0 682.3,361.2 676.7,360.0 671.2,358.7 665.7,357.4 660.2,356.1 654.6,354.8 649.1,353.4 644.4,354.0 638.7,352.8 633.3,353.8 627.9,354.9 624.3,353.8 620.7,352.8 616.1,352.5 611.4,352.2 605.9,350.5 600.3,348.7 594.0,349.9 590.2,347.6 586.5,345.2 587.8,338.2 586.0,332.7 581.2,331.3 578.4,329.3 575.6,327.2 570.1,325.3Z"/><path d="M710.9,464.6 717.3,465.8 723.8,467.0 730.2,468.2 736.7,469.3 743.1,470.4 749.6,471.5 756.0,472.6 762.5,473.6 761.3,481.5 760.0,489.4 758.7,497.3 765.8,498.4 772.8,499.5 779.8,500.5 786.9,501.5 793.9,502.5 792.6,512.0 791.3,521.5 790.0,531.0 788.7,540.5 787.4,550.0 786.0,559.5 784.7,569.1 783.4,578.6 782.1,588.1 780.8,597.6 773.6,596.6 766.5,595.5 759.4,594.5 752.2,593.4 745.1,592.3 738.0,591.1 730.9,590.0 723.8,588.8 716.6,587.5 709.5,586.3 702.4,585.0 695.4,583.7 688.3,582.3 690.0,573.2 691.7,564.2 693.5,555.1 695.2,546.1 697.0,537.0 698.7,527.9 700.5,518.9 702.2,509.8 703.9,500.8 705.7,491.7 707.4,482.7 709.1,473.6 710.9,464.6Z"/><path d="M916.2,538.9 923.4,539.4 930.5,539.8 937.7,540.2 944.8,540.5 952.0,540.8 959.1,541.1 966.2,541.4 973.4,541.6 980.5,541.8 987.7,542.0 994.8,542.1 1002.0,542.3 1009.1,542.3 1016.3,542.4 1023.4,542.4 1030.6,542.4 1037.7,542.4 1041.6,545.9 1045.2,549.5 1044.4,555.5 1049.0,560.2 1050.9,563.8 1050.9,572.2 1051.0,580.6 1051.1,589.0 1051.1,597.4 1051.2,605.8 1051.2,614.2 1043.9,614.3 1036.5,614.4 1029.2,614.4 1021.8,614.4 1014.5,614.4 1007.1,614.3 999.8,614.2 992.4,614.1 985.1,613.9 977.7,613.8 970.4,613.5 963.1,613.3 955.7,613.0 948.4,612.7 941.0,612.4 933.7,612.0 926.3,611.6 919.0,611.2 911.7,610.8 912.2,601.8 912.8,592.8 913.4,583.8 914.0,574.8 914.5,565.9 915.1,556.9 915.7,547.9 916.2,538.9Z"/><path d="M1029.4,528.5 1036.0,528.4 1042.6,528.3 1049.1,528.1 1055.7,528.0 1062.3,527.8 1068.8,527.6 1075.4,527.3 1082.0,527.0 1088.5,526.7 1095.1,526.4 1101.6,526.1 1107.4,531.3 1106.3,538.1 1108.5,545.2 1112.3,549.2 1116.1,553.2 1121.9,558.9 1126.8,564.6 1132.5,567.9 1132.0,573.9 1129.7,582.5 1134.8,589.4 1140.6,592.6 1146.6,598.2 1147.0,605.4 1153.9,609.7 1151.5,614.7 1148.2,622.2 1147.6,627.0 1145.2,634.4 1138.8,634.8 1132.5,635.2 1134.2,629.1 1135.9,623.0 1128.9,623.4 1121.8,623.8 1114.8,624.2 1107.8,624.5 1100.7,624.8 1093.7,625.1 1086.6,625.3 1079.6,625.6 1072.6,625.8 1065.5,625.9 1058.5,626.1 1051.4,626.2 1051.3,620.2 1051.2,614.2 1051.2,605.8 1051.1,597.4 1051.1,589.0 1051.0,580.6 1050.9,572.2 1050.9,563.8 1049.0,560.2 1044.4,555.5 1045.2,549.5 1041.6,545.9 1037.7,542.4 1034.3,535.2 1029.4,528.5Z"/><path d="M1005.9,328.2 1011.4,328.2 1016.8,328.3 1022.3,328.3 1027.8,328.3 1033.2,328.3 1038.7,328.2 1038.7,323.5 1038.6,318.8 1041.9,318.8 1045.2,318.8 1046.3,325.5 1047.4,332.3 1051.7,335.9 1057.7,337.1 1063.7,338.3 1069.7,339.4 1075.8,340.5 1081.8,341.6 1086.6,343.3 1091.3,344.9 1096.1,346.6 1101.9,344.8 1107.6,343.0 1113.3,344.5 1119.0,345.9 1124.8,347.4 1130.5,348.8 1125.8,350.9 1121.2,352.9 1116.5,355.0 1111.7,358.9 1106.8,362.8 1101.9,366.7 1098.9,370.0 1095.8,373.4 1092.4,376.7 1089.0,380.0 1086.0,382.3 1086.3,389.2 1086.5,396.0 1080.9,399.8 1077.2,408.5 1079.4,415.5 1079.3,421.7 1079.2,427.9 1083.5,431.4 1087.9,434.8 1094.9,440.4 1098.4,442.7 1101.9,444.9 1104.6,450.7 1107.3,456.6 1100.9,456.9 1094.5,457.2 1088.1,457.4 1081.7,457.7 1075.3,457.9 1068.8,458.1 1062.4,458.2 1056.0,458.3 1049.6,458.5 1043.2,458.5 1036.8,458.6 1030.4,458.6 1024.0,458.6 1017.6,458.6 1017.5,450.0 1017.3,441.4 1017.2,432.7 1017.1,424.1 1017.0,415.5 1013.0,413.5 1011.5,410.0 1012.5,406.5 1016.0,404.0 1016.0,400.5 1015.4,392.0 1012.2,384.8 1011.8,377.7 1011.5,370.6 1011.2,364.7 1010.8,358.8 1009.0,352.9 1007.2,347.0 1007.0,337.6 1005.9,328.2Z"/><path d="M1356.5,529.5 1358.5,525.5 1364.2,527.0 1371.6,527.6 1377.7,531.7 1373.7,537.5 1369.6,543.2 1373.0,543.9 1379.5,548.7 1386.0,553.4 1392.6,558.1 1395.6,564.2 1398.5,570.4 1401.5,576.5 1403.1,585.0 1396.1,586.5 1389.2,587.9 1382.2,589.3 1375.2,590.7 1368.2,592.0 1361.2,593.4 1354.2,594.7 1347.2,595.9 1340.2,597.2 1333.2,598.4 1326.2,599.5 1319.2,600.7 1312.2,601.8 1305.1,602.9 1298.1,604.0 1291.6,604.7 1285.2,605.5 1278.7,606.2 1272.2,606.8 1265.8,607.5 1259.3,608.1 1252.8,608.7 1259.9,606.0 1267.0,603.3 1271.8,597.6 1276.5,591.8 1281.3,587.0 1286.1,582.1 1293.3,586.4 1297.1,585.1 1300.8,583.7 1305.5,581.7 1310.2,579.7 1313.9,577.3 1317.6,574.9 1318.3,567.5 1323.7,559.4 1325.1,554.0 1326.4,548.6 1330.4,549.3 1334.5,550.0 1337.2,541.9 1342.0,533.5 1346.7,525.0 1352.0,527.5 1356.5,529.5ZM1402.5,546.6 1408.6,545.0 1406.8,552.4 1404.9,559.9 1403.0,567.3 1399.5,567.3 1400.5,560.4 1401.5,553.5 1402.5,546.6Z"/><path d="M1403.1,585.0 1410.0,593.0 1412.1,598.5 1414.2,604.0 1411.5,611.2 1408.8,618.4 1406.1,625.6 1400.3,631.0 1394.4,636.4 1388.5,641.8 1382.2,646.3 1375.9,650.8 1369.6,655.3 1364.2,651.9 1358.8,648.5 1350.0,643.1 1341.3,637.7 1334.5,638.9 1327.8,640.0 1321.0,641.1 1319.7,635.0 1313.4,635.3 1307.1,635.5 1300.8,635.7 1294.0,637.3 1287.3,638.9 1280.5,640.4 1276.8,642.8 1273.1,645.2 1265.9,645.7 1258.7,646.1 1251.5,646.5 1251.5,641.8 1257.6,633.7 1263.9,629.7 1270.2,625.6 1276.5,621.5 1280.5,618.8 1285.9,615.2 1291.3,611.6 1296.7,608.0 1298.1,604.0 1305.1,602.9 1312.2,601.8 1319.2,600.7 1326.2,599.5 1333.2,598.4 1340.2,597.2 1347.2,595.9 1354.2,594.7 1361.2,593.4 1368.2,592.0 1375.2,590.7 1382.2,589.3 1389.2,587.9 1396.1,586.5 1403.1,585.0Z"/><path d="M1456.2,416.3 1461.3,420.3 1458.9,424.7 1456.4,429.1 1463.7,435.8 1468.0,440.1 1472.2,440.4 1477.1,438.1 1475.5,434.3 1471.7,431.9 1474.2,431.9 1478.4,439.7 1473.2,442.4 1467.9,445.8 1462.3,445.6 1459.7,449.3 1456.8,443.9 1452.8,441.2 1452.0,438.4 1448.5,439.4 1444.9,440.3 1439.1,441.7 1433.3,443.0 1427.5,444.3 1421.7,445.6 1415.9,446.9 1415.9,438.2 1416.0,429.6 1420.5,428.6 1425.0,427.7 1429.6,426.7 1436.1,425.3 1442.7,423.8 1449.2,422.4 1452.6,418.2 1456.2,416.3Z"/></g>
<g fill="#fff" font-family="Liberation Sans, sans-serif" text-anchor="middle" opacity="0.999"><text x="609.5" y="404" font-size="20">OR</text><text x="739.5" y="546.2" font-size="19.5">UT</text><text x="977.2" y="586.1" font-size="21.5">KS</text><text x="1093.2" y="586.6" font-size="21.5">MO</text><text x="1047" y="402" font-size="21">MN</text><text x="1353.9" y="578.5" font-size="18">VA</text><text x="1342.9" y="625.3" font-size="19">NC</text><text x="1436" y="437" font-size="10.5">MA</text></g>
<g stroke="#079e59" stroke-width="2"><line x1="513" y1="278" x2="585" y2="345"/><line x1="752" y1="266" x2="742" y2="497"/><line x1="1099" y1="282" x2="1069.5" y2="419"/><line x1="1304" y1="406" x2="1133.6" y2="566.5"/><line x1="1503" y1="400" x2="1463.3" y2="425"/><line x1="1492" y1="478" x2="1377.2" y2="529.9"/><line x1="1469" y1="541" x2="1376.2" y2="568.4"/><line x1="1498" y1="588" x2="1404.6" y2="577.3"/><line x1="1427" y1="693" x2="1361.5" y2="606.3"/><line x1="825" y1="829.5" x2="1050.5" y2="565.6"/></g>
<g fill="#5ce0a4" stroke="#0cbd6e" stroke-width="1.5"><circle cx="513" cy="278" r="19.5"/><circle cx="752" cy="266" r="19.5"/><circle cx="1099" cy="282" r="19.5"/><circle cx="1304" cy="406" r="19.5"/><circle cx="1503" cy="400" r="19.5"/><circle cx="1492" cy="478" r="19.5"/><circle cx="1469" cy="541" r="19.5"/><circle cx="1498" cy="588" r="19.5"/><circle cx="1427" cy="693" r="19.5"/><circle cx="825" cy="829.5" r="19.5"/></g>
<g fill="#078a4e" font-family="Liberation Sans, sans-serif" font-size="20" text-anchor="middle" opacity="0.999"><text x="513" y="285.9">46</text><text x="752" y="273.9">49</text><text x="1099" y="289.9">50</text><text x="1304" y="413.9">44</text><text x="1503" y="407.9">43</text><text x="1492" y="485.9">45</text><text x="1469" y="548.9">42</text><text x="1498" y="595.9">47</text><text x="1427" y="700.9">41</text><text x="825" y="837.4">48</text></g>
<g fill="#fff" font-family="Liberation Sans, sans-serif" font-size="25" opacity="0.999"><text x="116" y="308.6" textLength="176.2" lengthAdjust="spacingAndGlyphs">50 - Minneapolis</text><text x="116" y="362.8" textLength="189.4" lengthAdjust="spacingAndGlyphs">49 - Salt Lake City</text><text x="116" y="417.0" textLength="220.3" lengthAdjust="spacingAndGlyphs">48 - Kansas City, Mo.</text><text x="116" y="471.2" textLength="242.5" lengthAdjust="spacingAndGlyphs">47 - Virginia Beach, Va.</text><text x="116" y="525.4" textLength="195.2" lengthAdjust="spacingAndGlyphs">46 - Portland, Ore.</text><text x="116" y="579.6" textLength="228.4" lengthAdjust="spacingAndGlyphs">45 - Washington, D.C.</text><text x="116" y="633.8" textLength="133.1" lengthAdjust="spacingAndGlyphs">44 - St. Louis</text><text x="116" y="688.0" textLength="121.4" lengthAdjust="spacingAndGlyphs">43 - Boston</text><text x="116" y="742.2" textLength="196" lengthAdjust="spacingAndGlyphs">42 - Richmond, Va.</text><text x="116" y="796.4" textLength="179.8" lengthAdjust="spacingAndGlyphs">41 - Raleigh, N.C.</text></g>
<g opacity="0.999">
<path d="M772.7,1111 L772.7,1094 C772.7,1086.5 777.5,1083.2 786,1082.2 L800.6,1080.6 C800.6,1091.5 800,1099 796,1104 C792,1108.2 786,1109.6 777.2,1109.6" fill="none" stroke="#0fc46d" stroke-width="4.2" stroke-linejoin="round"/>
<path d="M774.2,1106.5 L786.8,1094.3" stroke="#0fc46d" stroke-width="2.6" stroke-linecap="round"/>
<path d="M690.35,1107.35 V1135.65 M714.95,1126.00 A7.90,9.65 0 1 0 713.10,1132.20 M723.75,1135.65 V1116.35 M723.75,1124.35 A7.20,8 0 0 1 738.15,1124.35 V1135.65 M764.95,1107.15 V1135.65 M764.95,1126.00 A8.25,9.65 0 1 0 764.95,1126.01 M774.1,1116.35 V1135.65 M782.55,1135.65 V1116.35 M782.55,1124.35 A7.80,8 0 0 1 798.15,1124.35 V1135.65 M823.75,1126.00 A8.50,9.65 0 1 0 823.75,1126.01 M823.75,1116.35 V1136 C823.75,1141 820.25,1143.55 816.25,1143.55 C813.75,1143.55 811.95,1142.8 811.15,1141.8 M832.95,1108.45 V1131 C832.95,1134 834.5,1135.65 837,1135.65 L838.2,1135.65 M847.85,1116.35 V1135.65 M847.85,1124.35 C847.85,1118.85 851,1116.35 854.5,1116.35 L857.2,1116.35 M879.35,1126.00 A7.85,9.65 0 1 0 877.51,1132.20 M904.85,1126.00 A8.10,9.65 0 1 0 902.95,1132.20" fill="none" stroke="#fff" stroke-width="6.3" stroke-linecap="round" stroke-linejoin="round"/>
<path d="M699.15,1125.70 H714.95 M863.65,1125.70 H879.35 M888.65,1125.70 H904.85" fill="none" stroke="#fff" stroke-width="3.6"/>
<path d="M830.5,1115.8 H840.6" stroke="#fff" stroke-width="5.4" stroke-linecap="round"/>
<circle cx="910.6" cy="1116" r="2.1" fill="none" stroke="#fff" stroke-width="0.7"/>
</g>
</svg>
</body></html>
